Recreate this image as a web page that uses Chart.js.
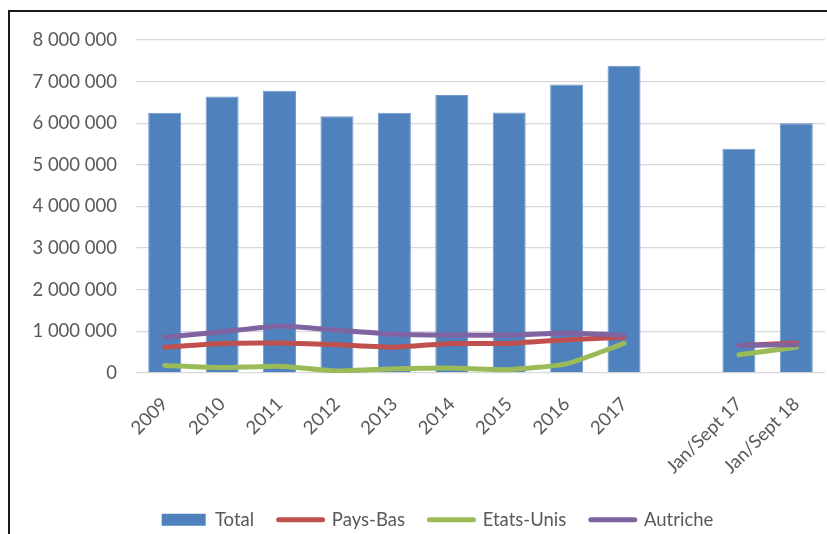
<!DOCTYPE html>
<html>
<head>
<meta charset="utf-8">
<script src="https://cdn.jsdelivr.net/npm/chart.js@4/dist/chart.umd.min.js"></script>
<style>
  html, body { margin: 0; padding: 0; background: #ffffff; overflow: hidden; }
  #wrap { position: relative; width: 827px; height: 534px; overflow: hidden; }
  #frame { position: absolute; left: 8px; top: 10px; width: 900px; height: 600px; border: 2px solid #1a1a1a; box-sizing: border-box; }
  canvas { position: absolute; left: 0; top: 0; }
</style>
</head>
<body>
<div id="wrap">
  <div id="frame"></div>
  <canvas id="c" width="827" height="534"></canvas>
</div>
<script>
const categories = ["2009", "2010", "2011", "2012", "2013", "2014", "2015", "2016", "2017", "", "Jan/Sept 17", "Jan/Sept 18"];
const total      = [6250000, 6640000, 6780000, 6170000, 6250000, 6680000, 6260000, 6930000, 7380000, null, 5390000, 6000000];
const paysBas    = [620000, 710000, 720000, 680000, 620000, 710000, 710000, 800000, 860000, null, 660000, 720000];
const etatsUnis  = [180000, 130000, 160000, 50000, 100000, 120000, 80000, 220000, 710000, null, 440000, 620000];
const autriche   = [860000, 990000, 1130000, 1030000, 930000, 910000, 910000, 960000, 910000, null, 660000, 680000];
const seriesNames = ["Total", "Pays-Bas", "Etats-Unis", "Autriche"];

const FONT = "Lato, 'Liberation Sans', sans-serif";
const TXT = "#595959";

function fmt(v) {
  return String(v).replace(/\B(?=(\d{3})+(?!\d))/g, " ");
}

const lineBase = {
  type: "line",
  borderWidth: 5,
  pointRadius: 0,
  pointHoverRadius: 0,
  tension: 0.15,
  borderCapStyle: "round",
  borderJoinStyle: "round",
  spanGaps: false,
  fill: false
};

const legendShift = {
  id: "legendShift",
  afterLayout(chart) {
    const lg = chart.legend;
    if (lg) { lg.left += 25; lg.right += 25; }
  }
};

new Chart(document.getElementById("c"), {
  type: "bar",
  plugins: [legendShift],
  data: {
    labels: categories,
    datasets: [
      { label: seriesNames[0], data: total, backgroundColor: "#4F81BD", borderColor: "#7299CC", borderWidth: 1,
        barPercentage: 0.575, categoryPercentage: 1.0, order: 4 },
      Object.assign({}, lineBase, { label: seriesNames[1], data: paysBas, borderColor: "#C0504D", backgroundColor: "#C0504D", order: 3 }),
      Object.assign({}, lineBase, { label: seriesNames[2], data: etatsUnis, borderColor: "#9BBB59", backgroundColor: "#9BBB59", order: 2 }),
      Object.assign({}, lineBase, { label: seriesNames[3], data: autriche, borderColor: "#8064A2", backgroundColor: "#8064A2", order: 1 })
    ]
  },
  options: {
    responsive: false,
    animation: false,
    devicePixelRatio: 1,
    layout: { padding: { top: 40, left: 0, right: 2, bottom: -5 } },
    plugins: {
      tooltip: { enabled: false },
      legend: {
        position: "bottom",
        labels: {
          usePointStyle: true,
          pointStyleWidth: 44,
          boxHeight: 12,
          padding: 24.5,
          color: TXT,
          font: { family: FONT, size: 18.5 },
          sort: (a, b) => a.datasetIndex - b.datasetIndex,
          generateLabels: (chart) => {
            const items = Chart.defaults.plugins.legend.labels.generateLabels(chart);
            items.forEach(it => {
              if (it.datasetIndex === 0) {
                it.pointStyle = "rect";
                it.lineWidth = 0;
              } else {
                it.pointStyle = "line";
                it.lineWidth = 5;
                it.lineCap = "round";
              }
            });
            return items;
          }
        }
      }
    },
    scales: {
      x: {
        grid: { display: false, drawTicks: true, tickLength: 12 },
        border: { display: false },
        ticks: { color: TXT, font: { family: FONT, size: 18.5 }, minRotation: 45, maxRotation: 45, padding: 8, autoSkip: false },
        afterFit: (s) => { s.height = 113; }
      },
      y: {
        min: 0, max: 8000000,
        grid: { color: "#D9D9D9", lineWidth: 1.3, drawTicks: false },
        border: { display: false },
        ticks: { stepSize: 1000000, color: TXT, font: { family: FONT, size: 18.5 }, padding: 19, callback: (v) => fmt(v) },
        afterFit: (s) => { s.width = 136; }
      }
    }
  }
});
</script>
</body>
</html>
